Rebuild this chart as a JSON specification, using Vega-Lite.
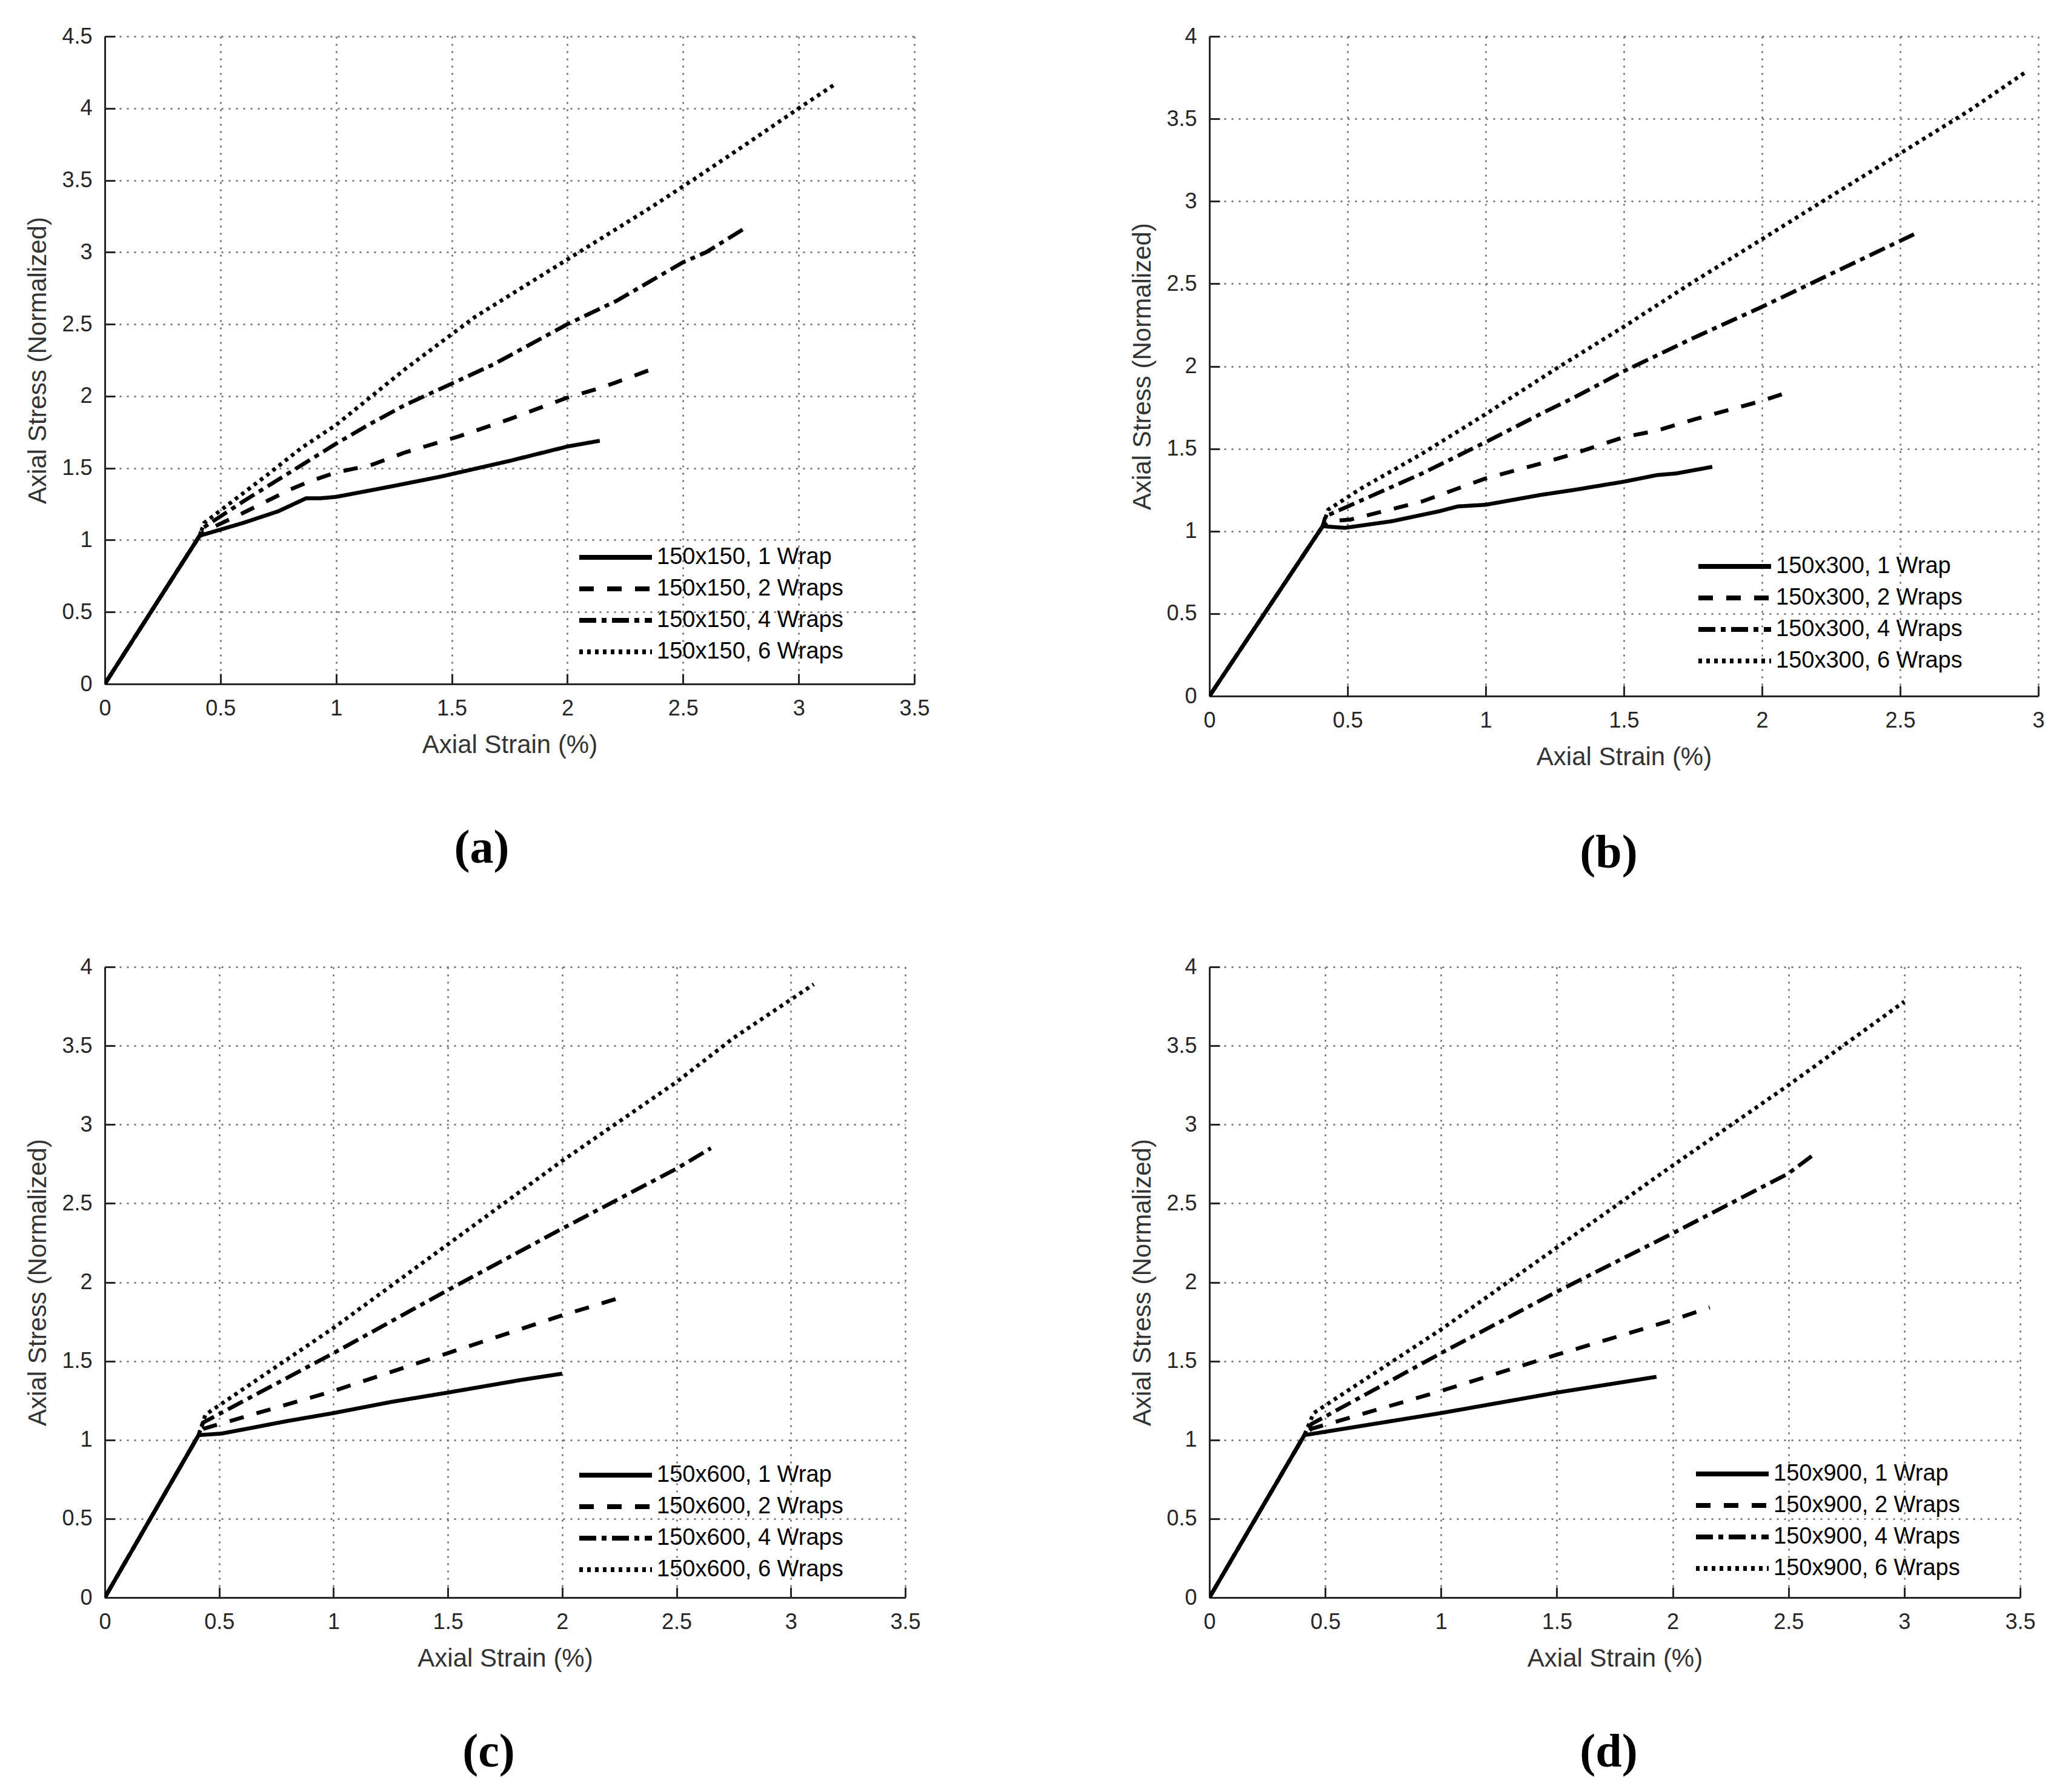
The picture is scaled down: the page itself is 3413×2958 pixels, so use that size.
{
  "$schema": "https://vega.github.io/schema/vega-lite/v6.json",
  "background": "white",
  "padding": {"left": 41, "top": 42, "right": 10, "bottom": 10},
  "datasets": {
    "curves": [
      {"panel":"a","series":"150x150, 1 Wrap","x":0,"y":0},
      {"panel":"a","series":"150x150, 1 Wrap","x":0.41,"y":1.03},
      {"panel":"a","series":"150x150, 1 Wrap","x":0.6,"y":1.12},
      {"panel":"a","series":"150x150, 1 Wrap","x":0.75,"y":1.2},
      {"panel":"a","series":"150x150, 1 Wrap","x":0.87,"y":1.29},
      {"panel":"a","series":"150x150, 1 Wrap","x":0.93,"y":1.29},
      {"panel":"a","series":"150x150, 1 Wrap","x":1.0,"y":1.3},
      {"panel":"a","series":"150x150, 1 Wrap","x":1.23,"y":1.37},
      {"panel":"a","series":"150x150, 1 Wrap","x":1.45,"y":1.44},
      {"panel":"a","series":"150x150, 1 Wrap","x":1.75,"y":1.55},
      {"panel":"a","series":"150x150, 1 Wrap","x":2.0,"y":1.65},
      {"panel":"a","series":"150x150, 1 Wrap","x":2.14,"y":1.69},
      {"panel":"a","series":"150x150, 2 Wraps","x":0,"y":0},
      {"panel":"a","series":"150x150, 2 Wraps","x":0.41,"y":1.03},
      {"panel":"a","series":"150x150, 2 Wraps","x":0.43,"y":1.06},
      {"panel":"a","series":"150x150, 2 Wraps","x":0.6,"y":1.19},
      {"panel":"a","series":"150x150, 2 Wraps","x":0.8,"y":1.35},
      {"panel":"a","series":"150x150, 2 Wraps","x":0.89,"y":1.41},
      {"panel":"a","series":"150x150, 2 Wraps","x":1.0,"y":1.47},
      {"panel":"a","series":"150x150, 2 Wraps","x":1.15,"y":1.52},
      {"panel":"a","series":"150x150, 2 Wraps","x":1.3,"y":1.61},
      {"panel":"a","series":"150x150, 2 Wraps","x":1.53,"y":1.72},
      {"panel":"a","series":"150x150, 2 Wraps","x":1.75,"y":1.84},
      {"panel":"a","series":"150x150, 2 Wraps","x":2.0,"y":1.99},
      {"panel":"a","series":"150x150, 2 Wraps","x":2.15,"y":2.06},
      {"panel":"a","series":"150x150, 2 Wraps","x":2.37,"y":2.19},
      {"panel":"a","series":"150x150, 4 Wraps","x":0,"y":0},
      {"panel":"a","series":"150x150, 4 Wraps","x":0.41,"y":1.03},
      {"panel":"a","series":"150x150, 4 Wraps","x":0.42,"y":1.08},
      {"panel":"a","series":"150x150, 4 Wraps","x":0.6,"y":1.27},
      {"panel":"a","series":"150x150, 4 Wraps","x":0.85,"y":1.52},
      {"panel":"a","series":"150x150, 4 Wraps","x":1.0,"y":1.67},
      {"panel":"a","series":"150x150, 4 Wraps","x":1.15,"y":1.81},
      {"panel":"a","series":"150x150, 4 Wraps","x":1.3,"y":1.94},
      {"panel":"a","series":"150x150, 4 Wraps","x":1.45,"y":2.05},
      {"panel":"a","series":"150x150, 4 Wraps","x":1.68,"y":2.22},
      {"panel":"a","series":"150x150, 4 Wraps","x":2.0,"y":2.5},
      {"panel":"a","series":"150x150, 4 Wraps","x":2.21,"y":2.66},
      {"panel":"a","series":"150x150, 4 Wraps","x":2.5,"y":2.93},
      {"panel":"a","series":"150x150, 4 Wraps","x":2.6,"y":3.0},
      {"panel":"a","series":"150x150, 4 Wraps","x":2.77,"y":3.17},
      {"panel":"a","series":"150x150, 6 Wraps","x":0,"y":0},
      {"panel":"a","series":"150x150, 6 Wraps","x":0.41,"y":1.03},
      {"panel":"a","series":"150x150, 6 Wraps","x":0.43,"y":1.12},
      {"panel":"a","series":"150x150, 6 Wraps","x":0.7,"y":1.45},
      {"panel":"a","series":"150x150, 6 Wraps","x":0.85,"y":1.64},
      {"panel":"a","series":"150x150, 6 Wraps","x":1.0,"y":1.8},
      {"panel":"a","series":"150x150, 6 Wraps","x":1.3,"y":2.19},
      {"panel":"a","series":"150x150, 6 Wraps","x":1.6,"y":2.55},
      {"panel":"a","series":"150x150, 6 Wraps","x":2.0,"y":2.95},
      {"panel":"a","series":"150x150, 6 Wraps","x":2.36,"y":3.31},
      {"panel":"a","series":"150x150, 6 Wraps","x":2.55,"y":3.51},
      {"panel":"a","series":"150x150, 6 Wraps","x":2.8,"y":3.78},
      {"panel":"a","series":"150x150, 6 Wraps","x":3.0,"y":4.0},
      {"panel":"a","series":"150x150, 6 Wraps","x":3.15,"y":4.16},

      {"panel":"b","series":"150x300, 1 Wrap","x":0,"y":0},
      {"panel":"b","series":"150x300, 1 Wrap","x":0.41,"y":1.03},
      {"panel":"b","series":"150x300, 1 Wrap","x":0.49,"y":1.02},
      {"panel":"b","series":"150x300, 1 Wrap","x":0.66,"y":1.06},
      {"panel":"b","series":"150x300, 1 Wrap","x":0.83,"y":1.12},
      {"panel":"b","series":"150x300, 1 Wrap","x":0.9,"y":1.15},
      {"panel":"b","series":"150x300, 1 Wrap","x":1.0,"y":1.16},
      {"panel":"b","series":"150x300, 1 Wrap","x":1.2,"y":1.22},
      {"panel":"b","series":"150x300, 1 Wrap","x":1.32,"y":1.25},
      {"panel":"b","series":"150x300, 1 Wrap","x":1.5,"y":1.3},
      {"panel":"b","series":"150x300, 1 Wrap","x":1.62,"y":1.34},
      {"panel":"b","series":"150x300, 1 Wrap","x":1.69,"y":1.35},
      {"panel":"b","series":"150x300, 1 Wrap","x":1.82,"y":1.39},
      {"panel":"b","series":"150x300, 2 Wraps","x":0,"y":0},
      {"panel":"b","series":"150x300, 2 Wraps","x":0.41,"y":1.03},
      {"panel":"b","series":"150x300, 2 Wraps","x":0.43,"y":1.06},
      {"panel":"b","series":"150x300, 2 Wraps","x":0.51,"y":1.07},
      {"panel":"b","series":"150x300, 2 Wraps","x":0.77,"y":1.18},
      {"panel":"b","series":"150x300, 2 Wraps","x":1.0,"y":1.32},
      {"panel":"b","series":"150x300, 2 Wraps","x":1.2,"y":1.41},
      {"panel":"b","series":"150x300, 2 Wraps","x":1.32,"y":1.47},
      {"panel":"b","series":"150x300, 2 Wraps","x":1.5,"y":1.57},
      {"panel":"b","series":"150x300, 2 Wraps","x":1.62,"y":1.61},
      {"panel":"b","series":"150x300, 2 Wraps","x":1.76,"y":1.68},
      {"panel":"b","series":"150x300, 2 Wraps","x":2.0,"y":1.79},
      {"panel":"b","series":"150x300, 2 Wraps","x":2.09,"y":1.84},
      {"panel":"b","series":"150x300, 4 Wraps","x":0,"y":0},
      {"panel":"b","series":"150x300, 4 Wraps","x":0.41,"y":1.03},
      {"panel":"b","series":"150x300, 4 Wraps","x":0.42,"y":1.09},
      {"panel":"b","series":"150x300, 4 Wraps","x":0.77,"y":1.35},
      {"panel":"b","series":"150x300, 4 Wraps","x":1.0,"y":1.54},
      {"panel":"b","series":"150x300, 4 Wraps","x":1.21,"y":1.72},
      {"panel":"b","series":"150x300, 4 Wraps","x":1.32,"y":1.81},
      {"panel":"b","series":"150x300, 4 Wraps","x":1.5,"y":1.97},
      {"panel":"b","series":"150x300, 4 Wraps","x":1.75,"y":2.17},
      {"panel":"b","series":"150x300, 4 Wraps","x":2.0,"y":2.36},
      {"panel":"b","series":"150x300, 4 Wraps","x":2.25,"y":2.56},
      {"panel":"b","series":"150x300, 4 Wraps","x":2.5,"y":2.76},
      {"panel":"b","series":"150x300, 4 Wraps","x":2.55,"y":2.8},
      {"panel":"b","series":"150x300, 6 Wraps","x":0,"y":0},
      {"panel":"b","series":"150x300, 6 Wraps","x":0.41,"y":1.03},
      {"panel":"b","series":"150x300, 6 Wraps","x":0.43,"y":1.13},
      {"panel":"b","series":"150x300, 6 Wraps","x":0.55,"y":1.26},
      {"panel":"b","series":"150x300, 6 Wraps","x":0.77,"y":1.47},
      {"panel":"b","series":"150x300, 6 Wraps","x":1.0,"y":1.71},
      {"panel":"b","series":"150x300, 6 Wraps","x":1.25,"y":1.98},
      {"panel":"b","series":"150x300, 6 Wraps","x":1.5,"y":2.24},
      {"panel":"b","series":"150x300, 6 Wraps","x":1.75,"y":2.51},
      {"panel":"b","series":"150x300, 6 Wraps","x":2.0,"y":2.77},
      {"panel":"b","series":"150x300, 6 Wraps","x":2.21,"y":2.99},
      {"panel":"b","series":"150x300, 6 Wraps","x":2.5,"y":3.29},
      {"panel":"b","series":"150x300, 6 Wraps","x":2.75,"y":3.55},
      {"panel":"b","series":"150x300, 6 Wraps","x":2.96,"y":3.79},

      {"panel":"c","series":"150x600, 1 Wrap","x":0,"y":0},
      {"panel":"c","series":"150x600, 1 Wrap","x":0.41,"y":1.03},
      {"panel":"c","series":"150x600, 1 Wrap","x":0.51,"y":1.04},
      {"panel":"c","series":"150x600, 1 Wrap","x":0.62,"y":1.07},
      {"panel":"c","series":"150x600, 1 Wrap","x":0.8,"y":1.12},
      {"panel":"c","series":"150x600, 1 Wrap","x":1.0,"y":1.17},
      {"panel":"c","series":"150x600, 1 Wrap","x":1.25,"y":1.24},
      {"panel":"c","series":"150x600, 1 Wrap","x":1.5,"y":1.3},
      {"panel":"c","series":"150x600, 1 Wrap","x":1.82,"y":1.38},
      {"panel":"c","series":"150x600, 1 Wrap","x":2.0,"y":1.42},
      {"panel":"c","series":"150x600, 2 Wraps","x":0,"y":0},
      {"panel":"c","series":"150x600, 2 Wraps","x":0.41,"y":1.03},
      {"panel":"c","series":"150x600, 2 Wraps","x":0.43,"y":1.07},
      {"panel":"c","series":"150x600, 2 Wraps","x":1.0,"y":1.31},
      {"panel":"c","series":"150x600, 2 Wraps","x":1.5,"y":1.55},
      {"panel":"c","series":"150x600, 2 Wraps","x":2.0,"y":1.79},
      {"panel":"c","series":"150x600, 2 Wraps","x":2.25,"y":1.9},
      {"panel":"c","series":"150x600, 4 Wraps","x":0,"y":0},
      {"panel":"c","series":"150x600, 4 Wraps","x":0.41,"y":1.03},
      {"panel":"c","series":"150x600, 4 Wraps","x":0.43,"y":1.11},
      {"panel":"c","series":"150x600, 4 Wraps","x":1.0,"y":1.55},
      {"panel":"c","series":"150x600, 4 Wraps","x":1.5,"y":1.95},
      {"panel":"c","series":"150x600, 4 Wraps","x":2.0,"y":2.34},
      {"panel":"c","series":"150x600, 4 Wraps","x":2.5,"y":2.72},
      {"panel":"c","series":"150x600, 4 Wraps","x":2.65,"y":2.85},
      {"panel":"c","series":"150x600, 6 Wraps","x":0,"y":0},
      {"panel":"c","series":"150x600, 6 Wraps","x":0.41,"y":1.03},
      {"panel":"c","series":"150x600, 6 Wraps","x":0.44,"y":1.16},
      {"panel":"c","series":"150x600, 6 Wraps","x":1.0,"y":1.71},
      {"panel":"c","series":"150x600, 6 Wraps","x":1.5,"y":2.24},
      {"panel":"c","series":"150x600, 6 Wraps","x":2.0,"y":2.77},
      {"panel":"c","series":"150x600, 6 Wraps","x":2.5,"y":3.27},
      {"panel":"c","series":"150x600, 6 Wraps","x":2.75,"y":3.55},
      {"panel":"c","series":"150x600, 6 Wraps","x":3.1,"y":3.89},

      {"panel":"d","series":"150x900, 1 Wrap","x":0,"y":0},
      {"panel":"d","series":"150x900, 1 Wrap","x":0.41,"y":1.03},
      {"panel":"d","series":"150x900, 1 Wrap","x":1.0,"y":1.17},
      {"panel":"d","series":"150x900, 1 Wrap","x":1.5,"y":1.3},
      {"panel":"d","series":"150x900, 1 Wrap","x":1.93,"y":1.4},
      {"panel":"d","series":"150x900, 2 Wraps","x":0,"y":0},
      {"panel":"d","series":"150x900, 2 Wraps","x":0.41,"y":1.03},
      {"panel":"d","series":"150x900, 2 Wraps","x":0.44,"y":1.07},
      {"panel":"d","series":"150x900, 2 Wraps","x":1.0,"y":1.31},
      {"panel":"d","series":"150x900, 2 Wraps","x":1.5,"y":1.54},
      {"panel":"d","series":"150x900, 2 Wraps","x":2.0,"y":1.76},
      {"panel":"d","series":"150x900, 2 Wraps","x":2.16,"y":1.84},
      {"panel":"d","series":"150x900, 4 Wraps","x":0,"y":0},
      {"panel":"d","series":"150x900, 4 Wraps","x":0.41,"y":1.03},
      {"panel":"d","series":"150x900, 4 Wraps","x":0.44,"y":1.1},
      {"panel":"d","series":"150x900, 4 Wraps","x":1.0,"y":1.55},
      {"panel":"d","series":"150x900, 4 Wraps","x":1.5,"y":1.94},
      {"panel":"d","series":"150x900, 4 Wraps","x":2.0,"y":2.31},
      {"panel":"d","series":"150x900, 4 Wraps","x":2.5,"y":2.69},
      {"panel":"d","series":"150x900, 4 Wraps","x":2.6,"y":2.8},
      {"panel":"d","series":"150x900, 6 Wraps","x":0,"y":0},
      {"panel":"d","series":"150x900, 6 Wraps","x":0.41,"y":1.03},
      {"panel":"d","series":"150x900, 6 Wraps","x":0.45,"y":1.17},
      {"panel":"d","series":"150x900, 6 Wraps","x":1.0,"y":1.7},
      {"panel":"d","series":"150x900, 6 Wraps","x":1.5,"y":2.22},
      {"panel":"d","series":"150x900, 6 Wraps","x":2.0,"y":2.74},
      {"panel":"d","series":"150x900, 6 Wraps","x":2.5,"y":3.25},
      {"panel":"d","series":"150x900, 6 Wraps","x":3.0,"y":3.78}
    ]
  },
  "data": {"name": "curves"},
  "columns": 2,
  "spacing": {"row": 447, "column": 487},
  "bounds": "flush",
  "resolve": {"scale": {"strokeDash": "independent", "x": "independent", "y": "independent"}, "legend": {"strokeDash": "independent"}},
  "concat": [
    {
      "width": 1336, "height": 1069,
      "title": {"text": "(a)", "orient": "bottom", "font": "Liberation Serif", "fontSize": 78, "fontWeight": "bold", "color": "black", "offset": 112, "dx": -46, "anchor": "middle"},
      "transform": [{"filter": "datum.panel === 'a'"}],
      "mark": {"type": "line", "color": "black", "strokeWidth": 6.5, "strokeCap": "butt", "clip": true},
      "encoding": {
        "x": {"field": "x", "type": "quantitative", "scale": {"domain": [0, 3.5], "nice": false, "zero": false}, "axis": {"values": [0, 0.5, 1, 1.5, 2, 2.5, 3, 3.5], "title": "Axial Strain (%)"}},
        "y": {"field": "y", "type": "quantitative", "scale": {"domain": [0, 4.5], "nice": false}, "axis": {"values": [0, 0.5, 1, 1.5, 2, 2.5, 3, 3.5, 4, 4.5], "title": "Axial Stress (Normalized)"}},
        "strokeDash": {"field": "series", "type": "nominal", "scale": {"domain": ["150x150, 1 Wrap", "150x150, 2 Wraps", "150x150, 4 Wraps", "150x150, 6 Wraps"], "range": [[1, 0], [24, 22], [28, 9, 8, 9], [6, 7]]}, "legend": {"orient": "none", "legendX": 779, "legendY": 837, "title": null}}
      }
    },
    {
      "width": 1368, "height": 1089,
      "title": {"text": "(b)", "orient": "bottom", "font": "Liberation Serif", "fontSize": 78, "fontWeight": "bold", "color": "black", "offset": 100, "dx": -25, "anchor": "middle"},
      "transform": [{"filter": "datum.panel === 'b'"}],
      "mark": {"type": "line", "color": "black", "strokeWidth": 6.5, "strokeCap": "butt", "clip": true},
      "encoding": {
        "x": {"field": "x", "type": "quantitative", "scale": {"domain": [0, 3], "nice": false, "zero": false}, "axis": {"values": [0, 0.5, 1, 1.5, 2, 2.5, 3], "title": "Axial Strain (%)"}},
        "y": {"field": "y", "type": "quantitative", "scale": {"domain": [0, 4], "nice": false}, "axis": {"values": [0, 0.5, 1, 1.5, 2, 2.5, 3, 3.5, 4], "title": "Axial Stress (Normalized)"}},
        "strokeDash": {"field": "series", "type": "nominal", "scale": {"domain": ["150x300, 1 Wrap", "150x300, 2 Wraps", "150x300, 4 Wraps", "150x300, 6 Wraps"], "range": [[1, 0], [24, 22], [28, 9, 8, 9], [6, 7]]}, "legend": {"orient": "none", "legendX": 803, "legendY": 852, "title": null}}
      }
    },
    {
      "width": 1321, "height": 1041,
      "title": {"text": "(c)", "orient": "bottom", "font": "Liberation Serif", "fontSize": 78, "fontWeight": "bold", "color": "black", "offset": 96, "dx": -27, "anchor": "middle"},
      "transform": [{"filter": "datum.panel === 'c'"}],
      "mark": {"type": "line", "color": "black", "strokeWidth": 6.5, "strokeCap": "butt", "clip": true},
      "encoding": {
        "x": {"field": "x", "type": "quantitative", "scale": {"domain": [0, 3.5], "nice": false, "zero": false}, "axis": {"values": [0, 0.5, 1, 1.5, 2, 2.5, 3, 3.5], "title": "Axial Strain (%)"}},
        "y": {"field": "y", "type": "quantitative", "scale": {"domain": [0, 4], "nice": false}, "axis": {"values": [0, 0.5, 1, 1.5, 2, 2.5, 3, 3.5, 4], "title": "Axial Stress (Normalized)"}},
        "strokeDash": {"field": "series", "type": "nominal", "scale": {"domain": ["150x600, 1 Wrap", "150x600, 2 Wraps", "150x600, 4 Wraps", "150x600, 6 Wraps"], "range": [[1, 0], [24, 22], [28, 9, 8, 9], [6, 7]]}, "legend": {"orient": "none", "legendX": 779, "legendY": 816, "title": null}}
      }
    },
    {
      "width": 1338, "height": 1041,
      "title": {"text": "(d)", "orient": "bottom", "font": "Liberation Serif", "fontSize": 78, "fontWeight": "bold", "color": "black", "offset": 96, "dx": -10, "anchor": "middle"},
      "transform": [{"filter": "datum.panel === 'd'"}],
      "mark": {"type": "line", "color": "black", "strokeWidth": 6.5, "strokeCap": "butt", "clip": true},
      "encoding": {
        "x": {"field": "x", "type": "quantitative", "scale": {"domain": [0, 3.5], "nice": false, "zero": false}, "axis": {"values": [0, 0.5, 1, 1.5, 2, 2.5, 3, 3.5], "title": "Axial Strain (%)"}},
        "y": {"field": "y", "type": "quantitative", "scale": {"domain": [0, 4], "nice": false}, "axis": {"values": [0, 0.5, 1, 1.5, 2, 2.5, 3, 3.5, 4], "title": "Axial Stress (Normalized)"}},
        "strokeDash": {"field": "series", "type": "nominal", "scale": {"domain": ["150x900, 1 Wrap", "150x900, 2 Wraps", "150x900, 4 Wraps", "150x900, 6 Wraps"], "range": [[1, 0], [24, 22], [28, 9, 8, 9], [6, 7]]}, "legend": {"orient": "none", "legendX": 799, "legendY": 814, "title": null}}
      }
    }
  ],
  "config": {
    "view": {"stroke": null},
    "axis": {
      "domainColor": "#262626", "domainWidth": 3,
      "tickColor": "#262626", "tickWidth": 3, "tickSize": -17,
      "labelFont": "Liberation Sans", "labelFontSize": 36, "labelColor": "#262626", "labelPadding": 40,
      "labelFlush": false, "labelOverlap": false, "format": "~g",
      "titleFont": "Liberation Sans", "titleFontSize": 42, "titleFontWeight": "normal", "titleColor": "#333333", "titlePadding": 22,
      "grid": true, "gridColor": "#666666", "gridDash": [3, 9], "gridWidth": 2.5
    },
    "axisY": {"labelPadding": 38, "titlePadding": 17},
    "legend": {
      "symbolType": "stroke", "symbolSize": 14400, "symbolStrokeWidth": 8, "symbolStrokeColor": "black",
      "labelFont": "Liberation Sans", "labelFontSize": 38, "labelColor": "black", "labelOffset": 4, "labelLimit": 0,
      "clipHeight": 46, "rowPadding": 6, "padding": 0
    }
  }
}
